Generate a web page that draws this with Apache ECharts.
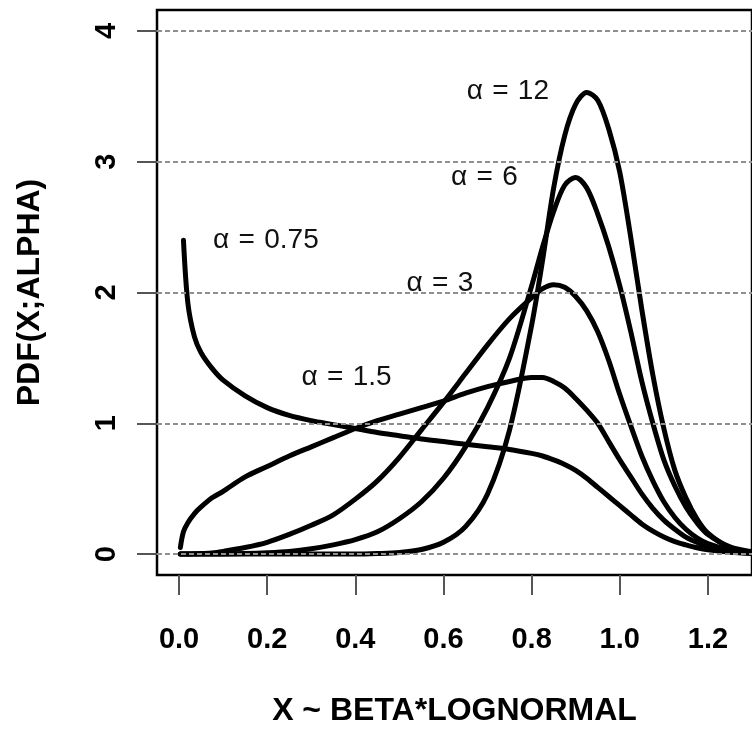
<!DOCTYPE html>
<html>
<head>
<meta charset="utf-8">
<script src="https://cdn.jsdelivr.net/npm/echarts@6/dist/echarts.min.js"></script>
<style>html,body{margin:0;padding:0;background:#fff;}#chart{width:752px;height:732px;}</style>
</head>
<body>
<div id="chart"></div>
<script>
// ---- data ----
const xValues = [0.003, 0.01, 0.02, 0.035, 0.05, 0.075, 0.1, 0.15, 0.2, 0.25, 0.3, 0.35, 0.4, 0.45, 0.5, 0.55, 0.6, 0.65, 0.7, 0.75, 0.8, 0.825, 0.85, 0.875, 0.9, 0.925, 0.95, 0.975, 1.0, 1.025, 1.05, 1.075, 1.1, 1.125, 1.15, 1.175, 1.2, 1.25, 1.3];
const pdfAlpha075 = [null, 2.40, 1.92, 1.66, 1.54, 1.42, 1.33, 1.21, 1.12, 1.06, 1.02, 0.99, 0.96, 0.93, 0.905, 0.88, 0.86, 0.84, 0.82, 0.80, 0.77, 0.75, 0.72, 0.685, 0.64, 0.58, 0.51, 0.44, 0.37, 0.30, 0.23, 0.175, 0.13, 0.095, 0.07, 0.048, 0.032, 0.014, 0.005];
const pdfAlpha15 = [0.05, 0.17, 0.24, 0.31, 0.36, 0.43, 0.48, 0.59, 0.67, 0.75, 0.82, 0.89, 0.96, 1.02, 1.07, 1.12, 1.17, 1.23, 1.28, 1.32, 1.35, 1.35, 1.32, 1.27, 1.19, 1.10, 1.00, 0.86, 0.72, 0.59, 0.46, 0.35, 0.26, 0.19, 0.13, 0.09, 0.055, 0.02, 0.006];
const pdfAlpha3 = [0, 0, 0.001, 0.002, 0.004, 0.008, 0.02, 0.05, 0.09, 0.15, 0.22, 0.30, 0.42, 0.56, 0.74, 0.95, 1.16, 1.38, 1.60, 1.80, 1.96, 2.03, 2.06, 2.04, 1.97, 1.86, 1.70, 1.48, 1.22, 0.98, 0.75, 0.56, 0.40, 0.28, 0.19, 0.125, 0.08, 0.03, 0.01];
const pdfAlpha6 = [0, 0, 0, 0, 0, 0, 0.001, 0.004, 0.01, 0.02, 0.04, 0.07, 0.11, 0.17, 0.27, 0.40, 0.58, 0.82, 1.12, 1.50, 2.05, 2.35, 2.62, 2.82, 2.88, 2.80, 2.60, 2.35, 2.05, 1.70, 1.32, 1.00, 0.72, 0.52, 0.36, 0.24, 0.15, 0.055, 0.018];
const pdfAlpha12 = [0, 0, 0, 0, 0, 0, 0, 0, 0, 0, 0, 0, 0, 0.004, 0.012, 0.035, 0.09, 0.21, 0.46, 0.95, 1.75, 2.25, 2.80, 3.20, 3.44, 3.53, 3.47, 3.25, 2.92, 2.42, 1.87, 1.37, 0.96, 0.64, 0.43, 0.27, 0.16, 0.05, 0.012];
const seriesLabels = ['α\u2004=\u20040.75', 'α\u2004=\u20041.5', 'α\u2004=\u20043', 'α\u2004=\u20046', 'α\u2004=\u200412'];
const xTicks = [0, 0.2, 0.4, 0.6, 0.8, 1.0, 1.2];
const yTicks = [0, 1, 2, 3, 4];
const xTitle = 'X ~ BETA*LOGNORMAL';
const yTitle = 'PDF(X;ALPHA)';

// ---- chart ----
const FONT = '"Liberation Sans", Arial, Helvetica, sans-serif';
const curves = [pdfAlpha075, pdfAlpha15, pdfAlpha3, pdfAlpha6, pdfAlpha12];
// annotation anchors (data coordinates) for each curve's label
const labelAt = [[0.197, 2.40], [0.38, 1.35], [0.592, 2.07], [0.693, 2.88], [0.746, 3.54]];

const series = [{
  type: 'line', data: [], z: 1, silent: true,
  markLine: {
    silent: true, symbol: 'none', label: {show: false}, animation: false,
    lineStyle: {color: '#8f8f8f', width: 2, type: [5, 3]},
    data: yTicks.map(v => ({yAxis: v}))
  }
}];
curves.forEach((ys, i) => {
  series.push({
    type: 'line', z: 3, smooth: 0.3, showSymbol: false, symbol: 'none',
    connectNulls: false, animation: false,
    lineStyle: {color: '#000', width: 5, cap: 'round', join: 'round'},
    data: xValues.map((x, k) => ys[k] == null ? [x, null] : [x, ys[k]]),
    markPoint: {
      symbol: 'circle', symbolSize: 0, animation: false, silent: true,
      label: {show: true, position: 'inside', color: '#111', fontSize: 28, fontFamily: FONT,
              formatter: seriesLabels[i]},
      data: [{coord: labelAt[i]}]
    }
  });
});

const chart = echarts.init(document.getElementById('chart'), null, {renderer: 'canvas'});
chart.setOption({
  backgroundColor: '#fff',
  animation: false,
  grid: {left: 157, top: 10, right: -11, bottom: 155, show: true, borderColor: '#000', borderWidth: 2.5, backgroundColor: 'transparent'},
  xAxis: {
    type: 'value', min: -0.05, max: 1.3,
    axisLine: {show: false, onZero: false},
    splitLine: {show: false},
    axisTick: {show: true, inside: false, length: 20, customValues: xTicks, lineStyle: {color: '#555', width: 2}},
    axisLabel: {show: true, customValues: xTicks, margin: 50, color: '#000', fontSize: 29, fontWeight: 'bold', fontFamily: FONT,
                formatter: v => Number(v).toFixed(1)},
    name: xTitle, nameLocation: 'middle', nameGap: 120,
    nameTextStyle: {color: '#000', fontSize: 32, fontWeight: 'bold', fontFamily: FONT}
  },
  yAxis: {
    type: 'value', min: -0.16, max: 4.16,
    axisLine: {show: false, onZero: false},
    splitLine: {show: false},
    axisTick: {show: true, inside: false, length: 20, customValues: yTicks, lineStyle: {color: '#555', width: 2}},
    axisLabel: {show: true, customValues: yTicks, rotate: 90, margin: 36, color: '#000', fontSize: 29, fontWeight: 'bold', fontFamily: FONT,
                formatter: v => String(Math.round(v))},
    name: yTitle, nameLocation: 'middle', nameGap: 111, nameRotate: 90,
    nameTextStyle: {color: '#000', fontSize: 32, fontWeight: 'bold', fontFamily: FONT}
  },
  series: series
});
</script>
</body>
</html>
